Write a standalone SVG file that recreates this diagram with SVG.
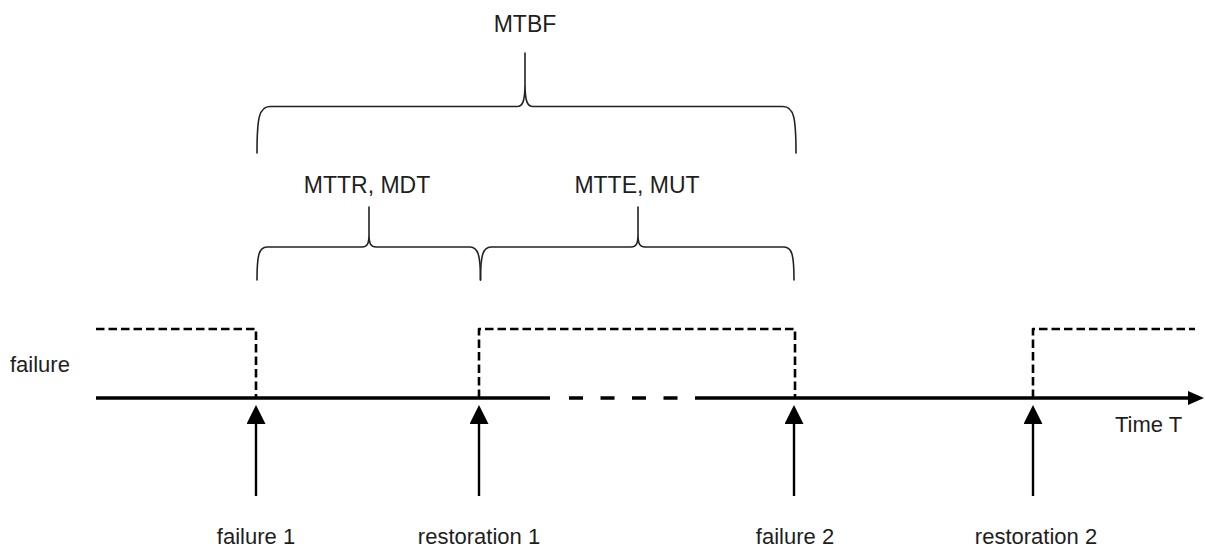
<svg xmlns="http://www.w3.org/2000/svg" width="1205" height="552" viewBox="0 0 1205 552">
  <style>
    .lbl { font-family: "Liberation Sans", Arial, sans-serif; font-size: 22px; fill: #1e1e1e; }
    .cap { font-size: 23px; text-anchor: middle; }
    .mid { text-anchor: middle; }
    .brace { fill: none; stroke: #222; stroke-width: 1.6; stroke-linecap: round; }
    .state { fill: none; stroke: #000; stroke-width: 2.6; stroke-dasharray: 8.5 4; stroke-linejoin: round; }
    .axis { fill: none; stroke: #000; stroke-width: 3.5; }
    .event { fill: none; stroke: #000; stroke-width: 2.4; }
  </style>
  <defs>
    <marker id="upHead" viewBox="0 0 19 19" markerUnits="userSpaceOnUse" markerWidth="19" markerHeight="19" refX="0" refY="9.5" orient="auto">
      <path d="M0,0 L19,9.5 L0,19 Z" fill="#000"/>
    </marker>
    <marker id="axisHead" viewBox="0 0 16 14" markerUnits="userSpaceOnUse" markerWidth="16" markerHeight="14" refX="0" refY="7" orient="auto">
      <path d="M0,0 L16,7 L0,14 Z" fill="#000"/>
    </marker>
  </defs>

  <g id="braces">
    <g id="mtbf">
      <path class="brace" d="M257,153 C257,118 259,106.5 270,106.5 L517,106.5 C522,106.5 525,103 525,84 L525,53 M525,84 C525,103 528,106.5 533,106.5 L783,106.5 C794,106.5 796,118 796,153"/>
      <text class="lbl cap" x="525" y="32">MTBF</text>
    </g>
    <g id="mttr">
      <path class="brace" d="M257,280 C257,255 259,247 267,247 L362,247 C367,247 369,244 369,235 L369,207 M369,235 C369,244 371,247 376,247 L470,247 C478,247 480.5,255 480.5,280"/>
      <text class="lbl cap" x="367" y="193">MTTR, MDT</text>
    </g>
    <g id="mtte">
      <path class="brace" d="M480.5,280 C480.5,255 483,247 491,247 L631,247 C636,247 638,244 638,235 L638,207 M638,235 C638,244 640,247 645,247 L784,247 C792,247 794,255 794,280"/>
      <text class="lbl cap" x="637" y="193">MTTE, MUT</text>
    </g>
  </g>

  <g id="state-line">
    <path class="state" d="M96,329 H256 V398"/>
    <path class="state" d="M479,398 V329 H795 V398"/>
    <path class="state" d="M1033,398 V329 H1195"/>
    <text class="lbl" x="10" y="372">failure</text>
  </g>

  <g id="time-axis">
    <line class="axis" x1="96" y1="398" x2="550" y2="398"/>
    <line class="axis" x1="569" y1="398" x2="678" y2="398" stroke-dasharray="14 17.5"/>
    <line class="axis" x1="695" y1="398" x2="1188" y2="398" marker-end="url(#axisHead)"/>
    <text class="lbl" x="1115" y="432">Time T</text>
  </g>

  <g id="connectors">
    <line class="event" x1="256" y1="496" x2="256" y2="424" marker-end="url(#upHead)"/>
    <line class="event" x1="479" y1="496" x2="479" y2="424" marker-end="url(#upHead)"/>
    <line class="event" x1="794" y1="496" x2="794" y2="424" marker-end="url(#upHead)"/>
    <line class="event" x1="1033" y1="496" x2="1033" y2="424" marker-end="url(#upHead)"/>
  </g>

  <g id="failure1"><text class="lbl mid" x="256" y="544">failure 1</text></g>
  <g id="restoration1"><text class="lbl mid" x="479" y="544">restoration 1</text></g>
  <g id="failure2"><text class="lbl mid" x="795" y="544">failure 2</text></g>
  <g id="restoration2"><text class="lbl mid" x="1036" y="544">restoration 2</text></g>
</svg>
